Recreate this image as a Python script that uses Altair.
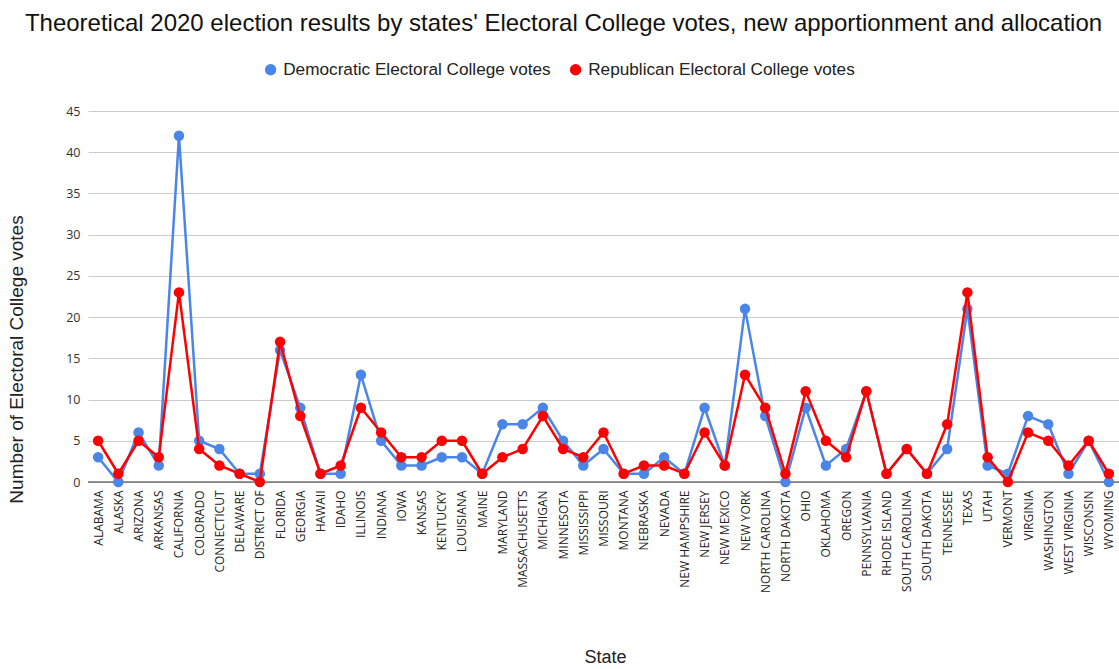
import altair as alt
import pandas as pd

states = [
    "ALABAMA", "ALASKA", "ARIZONA", "ARKANSAS", "CALIFORNIA", "COLORADO",
    "CONNECTICUT", "DELAWARE", "DISTRICT OF", "FLORIDA", "GEORGIA", "HAWAII",
    "IDAHO", "ILLINOIS", "INDIANA", "IOWA", "KANSAS", "KENTUCKY", "LOUISIANA",
    "MAINE", "MARYLAND", "MASSACHUSETTS", "MICHIGAN", "MINNESOTA",
    "MISSISSIPPI", "MISSOURI", "MONTANA", "NEBRASKA", "NEVADA",
    "NEW HAMPSHIRE", "NEW JERSEY", "NEW MEXICO", "NEW YORK", "NORTH CAROLINA",
    "NORTH DAKOTA", "OHIO", "OKLAHOMA", "OREGON", "PENNSYLVANIA",
    "RHODE ISLAND", "SOUTH CAROLINA", "SOUTH DAKOTA", "TENNESSEE", "TEXAS",
    "UTAH", "VERMONT", "VIRGINIA", "WASHINGTON", "WEST VIRGINIA", "WISCONSIN",
    "WYOMING",
]

dem_votes = [
    3, 0, 6, 2, 42, 5, 4, 1, 1, 16, 9, 1, 1, 13, 5, 2, 2, 3, 3, 1, 7, 7, 9, 5,
    2, 4, 1, 1, 3, 1, 9, 2, 21, 8, 0, 9, 2, 4, 11, 1, 4, 1, 4, 21, 2, 1, 8, 7,
    1, 5, 0,
]

rep_votes = [
    5, 1, 5, 3, 23, 4, 2, 1, 0, 17, 8, 1, 2, 9, 6, 3, 3, 5, 5, 1, 3, 4, 8, 4,
    3, 6, 1, 2, 2, 1, 6, 2, 13, 9, 1, 11, 5, 3, 11, 1, 4, 1, 7, 23, 3, 0, 6, 5,
    2, 5, 1,
]

series_names = ["Democratic Electoral College votes", "Republican Electoral College votes"]
series_colors = ["#4a86e8", "#ff0000"]

rows = []
for name, values in zip(series_names, [dem_votes, rep_votes]):
    for s, v in zip(states, values):
        rows.append({"State": s, "Series": name, "Votes": v})
df = pd.DataFrame(rows)

x_enc = alt.X(
    "State:N",
    sort=states,
    scale=alt.Scale(type="point", padding=0.5),
    axis=alt.Axis(
        title="State",
        labelAngle=-90,
        labelFont="Open Sans",
        labelFontSize=12,
        labelColor="#222222",
        labelPadding=8,
        labelLimit=0,
        ticks=False,
        domain=False,
        grid=False,
        titleFont="Liberation Sans",
        titleFontSize=18,
        titleFontWeight="normal",
        titleColor="#222222",
        titleX=517,
        titleY=175,
        titleBaseline="middle",
    ),
)
y_enc = alt.Y(
    "Votes:Q",
    scale=alt.Scale(domain=[0, 45], nice=False),
    axis=alt.Axis(
        title="Number of Electoral College votes",
        values=list(range(0, 50, 5)),
        labelFont="Open Sans",
        labelFontSize=12.5,
        labelColor="#333333",
        labelPadding=8,
        ticks=False,
        domain=False,
        gridColor="#cccccc",
        gridWidth=1,
        titleFont="Liberation Sans",
        titleFontSize=19,
        titleFontWeight="normal",
        titleColor="#222222",
        titleX=-62,
        titleY=248,
    ),
)
color_enc = alt.Color(
    "Series:N",
    sort=series_names,
    scale=alt.Scale(domain=series_names, range=series_colors),
    legend=alt.Legend(
        title=None,
        orient="none",
        direction="horizontal",
        legendX=174,
        legendY=-50,
        symbolType="circle",
        symbolSize=130,
        symbolStrokeWidth=0,
        labelFont="Liberation Sans",
        labelFontSize=17.2,
        labelColor="#222222",
        labelLimit=0,
        columnPadding=16,
        labelOffset=4,
    ),
)

base = alt.Chart(df)
layers = []
for name in series_names:
    sub = base.transform_filter(alt.datum.Series == name)
    layers.append(sub.mark_line(strokeWidth=2.5).encode(x=x_enc, y=y_enc, color=color_enc))
    layers.append(
        sub.mark_circle(size=110, opacity=1).encode(x=x_enc, y=y_enc, color=color_enc)
    )

baseline = alt.Chart(pd.DataFrame({"zero": [0]})).mark_rule(
    color="#333333", strokeWidth=1.2
).encode(y=alt.Y("zero:Q", scale=alt.Scale(domain=[0, 45], nice=False)))

chart = (
    alt.layer(baseline, *layers)
    .properties(
        width=1031,
        height=371,
        autosize=alt.AutoSizeParams(type="none"),
        padding={"left": 88, "top": 111, "right": 0, "bottom": 187},
        title=alt.TitleParams(
            "Theoretical 2020 election results by states' Electoral College votes, new apportionment and allocation",
            font="Liberation Sans",
            fontSize=24,
            fontWeight="normal",
            color="#111111",
            anchor="middle",
            frame="group",
            dx=-40,
            offset=25,
        ),
        background="white",
    )
    .configure_view(stroke=None)
)

chart.save("out.html", embed_options={"renderer": "svg", "actions": False})
